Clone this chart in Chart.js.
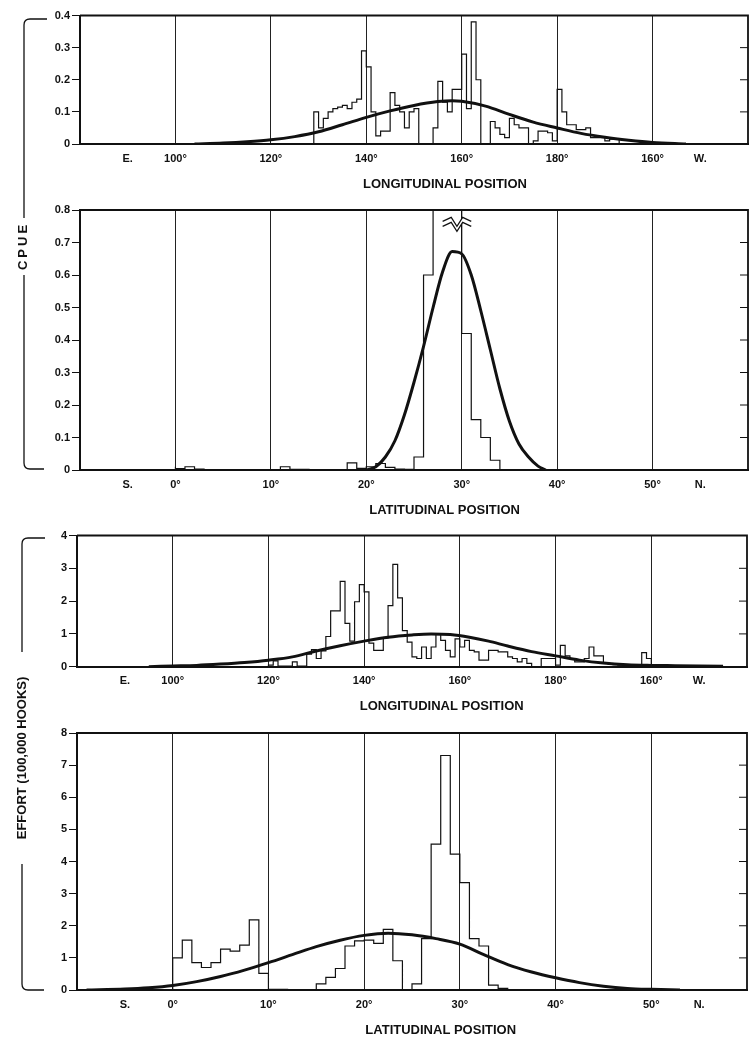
<!DOCTYPE html>
<html>
<head>
<meta charset="utf-8">
<script src="https://cdn.jsdelivr.net/npm/chart.js@4.4.0/dist/chart.umd.min.js"></script>
<style>
    html, body { margin: 0; padding: 0; background: #fff; }
    #page { position: relative; width: 751px; height: 1041px; overflow: hidden; }
    .panel { position: absolute; left: 0; width: 751px; }
    #brackets { position: absolute; left: 0; top: 0; }
</style>
</head>
<body>
<div id="page">
    <div class="panel" style="top:0;height:200px"><canvas id="cpueLon"></canvas></div>
    <div class="panel" style="top:200px;height:322px"><canvas id="cpueLat"></canvas></div>
    <div class="panel" style="top:522px;height:200px"><canvas id="effortLon"></canvas></div>
    <div class="panel" style="top:722px;height:319px"><canvas id="effortLat"></canvas></div>
    <svg id="brackets" width="751" height="1041">
        <g fill="none" stroke="#111" stroke-width="1.3">
            <path d="M47 19 L30 19 Q24 19 24 25 L24 218"/>
            <path d="M24 275 L24 463 Q24 469 30 469 L44 469"/>
            <path d="M45 538 L28 538 Q22 538 22 544 L22 652"/>
            <path d="M22 864 L22 984 Q22 990 28 990 L44 990"/>
        </g>
        <g font-family="Liberation Sans, Arial, sans-serif" font-weight="bold" font-size="13" fill="#111" text-anchor="middle">
            <text transform="translate(27,246) rotate(-90)" letter-spacing="3">CPUE</text>
            <text transform="translate(26,758) rotate(-90)">EFFORT (100,000 HOOKS)</text>
        </g>
    </svg>
</div>
<script>
// Tick labels
const lonTickValues = [90, 100, 120, 140, 160, 180, 200, 210];
const lonTickLabels = ['E.', '100°', '120°', '140°', '160°', '180°', '160°', 'W.'];
const latTickValues = [-5, 0, 10, 20, 30, 40, 50, 55];
const latTickLabels = ['S.', '0°', '10°', '20°', '30°', '40°', '50°', 'N.'];

// CPUE by longitude, 1 degree bins starting at 129 (180 and beyond counted on to 200 = 160 W)
const cpueLonStart = 129;
const cpueLonValues = [
    0.02, 0.10, 0.05, 0.08, 0.10, 0.11, 0.115, 0.12, 0.11, 0.13,   // 129-138
    0.14, 0.29, 0.24, 0.10, 0.025, 0.04, 0.04, 0.16, 0.12, 0.10,   // 139-148
    0.05, 0.10, 0.11, 0, 0, 0, 0.05, 0.195, 0.13, 0.10,            // 149-158
    0.17, 0.17, 0.28, 0.11, 0.38, 0.20, 0, 0, 0.07, 0.05,          // 159-168
    0.03, 0.02, 0.08, 0.06, 0.05, 0.05, 0, 0.01, 0.04, 0.04,       // 169-178
    0.035, 0.01, 0.17, 0.10, 0.06, 0.06, 0.045, 0.045, 0.05, 0.02, // 179-188
    0.02, 0.02, 0.01, 0.015, 0.015                                 // 189-193
];
const cpueLonCurveX = [104, 110, 115, 120, 125, 130, 135, 140, 145, 150, 155, 158, 160, 165, 170, 175, 180, 185, 190, 195, 200, 207];
const cpueLonCurveY = [0, 0.003, 0.007, 0.013, 0.023, 0.038, 0.06, 0.083, 0.103, 0.12, 0.132, 0.135, 0.133, 0.118, 0.092, 0.068, 0.05, 0.033, 0.021, 0.012, 0.005, 0];

// CPUE by latitude, 1 degree bins starting at 0 (28-30 run off the scale)
const cpueLatStart = 0;
const cpueLatValues = [
    0.01, 0.004, 0.01, 0.003, 0, 0, 0, 0, 0, 0,          // 0-9
    0, 0, 0.01, 0.002, 0.002, 0, 0, 0, 0, 0.022,         // 10-19
    0.005, 0.01, 0.02, 0.008, 0.003, 0.002, 0.04, 0.60, 1.0, 1.0, // 20-29
    1.0, 0.42, 0.155, 0.10, 0.03                         // 30-34
];
const cpueLatCurveX = [20, 21, 22, 23, 24, 25, 26, 27, 28, 29, 30, 31, 32, 33, 34, 35, 36, 37, 38, 38.8];
const cpueLatCurveY = [0, 0.01, 0.04, 0.09, 0.17, 0.27, 0.38, 0.5, 0.61, 0.672, 0.665, 0.6, 0.49, 0.37, 0.25, 0.15, 0.08, 0.04, 0.012, 0];

// Effort by longitude, 1 degree bins starting at 120
const effortLonStart = 120;
const effortLonValues = [
    0.05, 0.05, 0.18, 0.02, 0.02, 0.02, 0.15, 0.02, 0.02, 0.38,   // 120-129
    0.52, 0.25, 0.48, 0.92, 1.70, 1.70, 2.60, 1.32, 0.78, 1.98,   // 130-139
    2.50, 2.28, 0.72, 0.50, 0.50, 0.88, 1.86, 3.12, 2.10, 1.10,   // 140-149
    0.75, 0.30, 0.25, 0.60, 0.25, 0.60, 1.00, 0.80, 0.50, 0.30,   // 150-159
    0.85, 0.60, 0.80, 0.50, 0.45, 0.20, 0.20, 0.50, 0.50, 0.45,   // 160-169
    0.45, 0.30, 0.25, 0.15, 0.25, 0.10, 0, 0, 0.25, 0.25,         // 170-179
    0.25, 0.05, 0.65, 0.33, 0.25, 0.15, 0.15, 0.25, 0.60, 0.33,   // 180-189
    0.33, 0.10, 0.08, 0.06, 0.05, 0.05, 0.05, 0.05, 0.05, 0.43,   // 190-199
    0.25, 0.05, 0.02, 0.02, 0.02, 0.02, 0.02, 0.02, 0.02, 0.03,   // 200-209
    0.02, 0.02, 0.02, 0.02                                        // 210-213
];
const effortLonCurveX = [95, 100, 105, 110, 115, 120, 125, 130, 135, 140, 145, 150, 154, 158, 162, 166, 170, 175, 180, 185, 190, 195, 200, 205, 210, 215];
const effortLonCurveY = [0, 0.02, 0.04, 0.08, 0.13, 0.2, 0.3, 0.48, 0.64, 0.78, 0.9, 0.97, 1.0, 0.98, 0.9, 0.78, 0.63, 0.46, 0.33, 0.2, 0.11, 0.06, 0.04, 0.03, 0.02, 0.01];

// Effort by latitude, 1 degree bins starting at 0
const effortLatStart = 0;
const effortLatValues = [
    0.81, 1.00, 1.55, 0.85, 0.70, 0.85, 1.27, 1.21, 1.40, 2.18,   // 0-9
    0.52, 0.02, 0.02, 0, 0, 0, 0.19, 0.39, 0.67, 1.37,            // 10-19
    1.53, 1.55, 1.45, 1.89, 0.91, 0, 0.19, 1.60, 4.54, 7.30,      // 20-29
    4.23, 3.34, 1.60, 1.37, 0.15, 0.05                            // 30-35
];
const effortLatCurveX = [-9, -5, -2.5, 0, 2.5, 5, 7.5, 10, 12.5, 15, 17.5, 20, 22.5, 25, 27.5, 30, 32.5, 35, 37.5, 40, 42.5, 45, 47.5, 50, 53];
const effortLatCurveY = [0, 0.03, 0.07, 0.14, 0.26, 0.42, 0.62, 0.85, 1.1, 1.35, 1.55, 1.7, 1.77, 1.72, 1.6, 1.43, 1.1, 0.79, 0.56, 0.38, 0.23, 0.12, 0.05, 0.02, 0];

Chart.defaults.font.family = '"Liberation Sans", Arial, sans-serif';
Chart.defaults.color = '#111';

// Histogram outline as a stepped line
function stepPoints(start, values) {
    const pts = [{ x: start, y: 0 }];
    values.forEach((v, i) => pts.push({ x: start + i, y: v }));
    pts.push({ x: start + values.length, y: 0 });
    return pts;
}

function curvePoints(xs, ys) {
    return xs.map((x, i) => ({ x: x, y: ys[i] }));
}

// top/right border and the short inner ticks on the right edge
const framePlugin = {
    id: 'frame',
    afterDatasetsDraw(chart) {
        const { ctx, chartArea: a, scales: { y } } = chart;
        ctx.save();
        ctx.strokeStyle = '#111';
        ctx.lineWidth = 1.8;
        ctx.beginPath();
        ctx.moveTo(a.left, a.top);
        ctx.lineTo(a.right, a.top);
        ctx.lineTo(a.right, a.bottom);
        ctx.stroke();
        ctx.lineWidth = 1;
        y.ticks.forEach(t => {
            if (t.value <= y.min || t.value >= y.max) return;
            const py = y.getPixelForValue(t.value);
            ctx.beginPath();
            ctx.moveTo(a.right - 8, py);
            ctx.lineTo(a.right, py);
            ctx.stroke();
        });
        ctx.restore();
    }
};

// axis caption placed under a given x value
const captionPlugin = {
    id: 'caption',
    afterDraw(chart, args, opts) {
        const { ctx, chartArea: a, scales: { x } } = chart;
        ctx.save();
        ctx.font = 'bold 13px "Liberation Sans", Arial, sans-serif';
        ctx.fillStyle = '#111';
        ctx.textAlign = 'center';
        ctx.textBaseline = 'middle';
        ctx.fillText(opts.text, x.getPixelForValue(opts.at), a.bottom + opts.offset);
        ctx.restore();
    }
};

// broken-scale mark on the off-scale bars
const breakPlugin = {
    id: 'breakMark',
    afterDatasetsDraw(chart, args, opts) {
        if (!opts.from) return;
        const { ctx, scales: { x, y } } = chart;
        const x0 = x.getPixelForValue(opts.from);
        const x1 = x.getPixelForValue(opts.to);
        const w = x1 - x0;
        const y0 = y.getPixelForValue(opts.value);
        const zig = (dy) => [[x0, y0 + dy], [x0 + w * 0.3, y0 - 4 + dy], [x0 + w * 0.5, y0 + 5 + dy], [x0 + w * 0.7, y0 - 4 + dy], [x1, y0 + dy]];
        const up = zig(0), down = zig(5);
        ctx.save();
        ctx.fillStyle = '#fff';
        ctx.beginPath();
        up.forEach((p, i) => i ? ctx.lineTo(p[0], p[1]) : ctx.moveTo(p[0], p[1]));
        down.slice().reverse().forEach(p => ctx.lineTo(p[0], p[1]));
        ctx.closePath();
        ctx.fill();
        ctx.strokeStyle = '#111';
        ctx.lineWidth = 1.2;
        [up, down].forEach(line => {
            ctx.beginPath();
            line.forEach((p, i) => i ? ctx.lineTo(p[0], p[1]) : ctx.moveTo(p[0], p[1]));
            ctx.stroke();
        });
        ctx.restore();
    }
};

function makePanel(id, cfg) {
    const area = cfg.area;
    return new Chart(document.getElementById(id), {
        type: 'line',
        data: {
            datasets: [
                {
                    data: curvePoints(cfg.curveX, cfg.curveY),
                    borderColor: '#111',
                    borderWidth: 3,
                    pointRadius: 0,
                    cubicInterpolationMode: 'monotone',
                    fill: false
                },
                {
                    data: stepPoints(cfg.start, cfg.values),
                    borderColor: '#111',
                    borderWidth: 1.2,
                    pointRadius: 0,
                    stepped: 'after',
                    fill: false
                }
            ]
        },
        options: {
            responsive: true,
            maintainAspectRatio: false,
            animation: false,
            layout: {
                padding: { top: area.top - cfg.boxTop, right: 751 - area.right, left: 0, bottom: 0 }
            },
            plugins: {
                legend: { display: false },
                tooltip: { enabled: false },
                caption: { text: cfg.caption, at: cfg.captionAt, offset: 40 },
                breakMark: cfg.breakMark || {}
            },
            scales: {
                x: {
                    type: 'linear',
                    min: cfg.xMin,
                    max: cfg.xMax,
                    afterBuildTicks: (scale) => {
                        scale.ticks = cfg.tickValues.map(v => ({ value: v }));
                    },
                    afterFit: (scale) => {
                        scale.height = cfg.boxTop + cfg.boxHeight - area.bottom;
                    },
                    grid: {
                        drawTicks: false,
                        lineWidth: 1,
                        color: (ctx) => (ctx.index === 0 || ctx.index === cfg.tickValues.length - 1) ? 'rgba(0,0,0,0)' : '#222'
                    },
                    border: { display: true, color: '#111', width: 2 },
                    ticks: {
                        padding: 8,
                        autoSkip: false,
                        maxRotation: 0,
                        font: { size: 11, weight: 'bold' },
                        callback: (value, index) => cfg.tickLabels[index]
                    }
                },
                y: {
                    min: 0,
                    max: cfg.yMax,
                    afterFit: (scale) => { scale.width = area.left; },
                    grid: { drawOnChartArea: false, drawTicks: true, tickLength: 8, color: '#111', lineWidth: 1 },
                    border: { display: true, color: '#111', width: 2 },
                    ticks: {
                        stepSize: cfg.yStep,
                        padding: 2,
                        font: { size: 11, weight: 'bold' },
                        callback: (v) => v === 0 ? '0' : (cfg.yStep < 1 ? v.toFixed(1) : String(v))
                    }
                }
            }
        },
        plugins: [framePlugin, captionPlugin, breakPlugin]
    });
}

makePanel('cpueLon', {
    boxTop: 0, boxHeight: 200,
    area: { left: 80, right: 748, top: 15.5, bottom: 144 },
    xMin: 80, xMax: 220, tickValues: lonTickValues, tickLabels: lonTickLabels,
    yMax: 0.4, yStep: 0.1,
    start: cpueLonStart, values: cpueLonValues,
    curveX: cpueLonCurveX, curveY: cpueLonCurveY,
    caption: 'LONGITUDINAL POSITION', captionAt: 156.5
});

makePanel('cpueLat', {
    boxTop: 200, boxHeight: 322,
    area: { left: 80, right: 748, top: 210, bottom: 470 },
    xMin: -10, xMax: 60, tickValues: latTickValues, tickLabels: latTickLabels,
    yMax: 0.8, yStep: 0.1,
    start: cpueLatStart, values: cpueLatValues,
    curveX: cpueLatCurveX, curveY: cpueLatCurveY,
    caption: 'LATITUDINAL POSITION', captionAt: 28.2,
    breakMark: { from: 28, to: 31, value: 0.765 }
});

makePanel('effortLon', {
    boxTop: 522, boxHeight: 200,
    area: { left: 77, right: 747, top: 535.5, bottom: 666.7 },
    xMin: 80, xMax: 220, tickValues: lonTickValues, tickLabels: lonTickLabels,
    yMax: 4, yStep: 1,
    start: effortLonStart, values: effortLonValues,
    curveX: effortLonCurveX, curveY: effortLonCurveY,
    caption: 'LONGITUDINAL POSITION', captionAt: 156.2
});

makePanel('effortLat', {
    boxTop: 722, boxHeight: 319,
    area: { left: 77, right: 747, top: 733, bottom: 990 },
    xMin: -10, xMax: 60, tickValues: latTickValues, tickLabels: latTickLabels,
    yMax: 8, yStep: 1,
    start: effortLatStart, values: effortLatValues,
    curveX: effortLatCurveX, curveY: effortLatCurveY,
    caption: 'LATITUDINAL POSITION', captionAt: 28
});
</script>
</body>
</html>
